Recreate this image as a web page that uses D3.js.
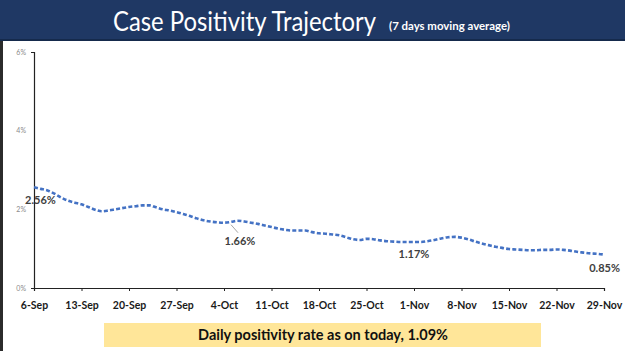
<!DOCTYPE html>
<html>
<head>
<meta charset="utf-8">
<script src="https://cdn.jsdelivr.net/npm/d3@7"></script>
<style>
  body { margin: 0; background: #fff; }
  svg { display: block; }
</style>
</head>
<body>
<div id="viz-area"></div>
<script>
// 7 day moving average of case positivity, 6-Sep .. 29-Nov (one value a day, %)
const START = "2020-09-06";
const positivity = [
  2.56, 2.52, 2.48, 2.40, 2.30, 2.22, 2.17, 2.13, 2.06, 1.99,
  1.95, 1.97, 2.00, 2.03, 2.06, 2.08, 2.10, 2.10, 2.05, 2.00,
  1.97, 1.93, 1.88, 1.83, 1.77, 1.72, 1.69, 1.67, 1.66, 1.68,
  1.71, 1.69, 1.66, 1.63, 1.59, 1.55, 1.51, 1.48, 1.46, 1.46,
  1.46, 1.42, 1.39, 1.38, 1.36, 1.34, 1.29, 1.24, 1.22, 1.25,
  1.24, 1.21, 1.19, 1.18, 1.17, 1.17, 1.17, 1.17, 1.19, 1.22,
  1.26, 1.29, 1.30, 1.28, 1.24, 1.18, 1.13, 1.09, 1.05, 1.02,
  0.99, 0.98, 0.97, 0.96, 0.96, 0.97, 0.97, 0.98, 0.97, 0.95,
  0.92, 0.90, 0.88, 0.87, 0.85
];
const tickLabels = ["6-Sep","13-Sep","20-Sep","27-Sep","4-Oct","11-Oct","18-Oct",
                    "25-Oct","1-Nov","8-Nov","15-Nov","22-Nov","29-Nov"];
const yTicks = [0, 2, 4, 6];
// labelled days (index into positivity) and their text
const labelDays  = [0, 28, 56, 84];
const labelTexts = ["2.56%", "1.66%", "1.17%", "0.85%"];

const TITLE = "Case Positivity Trajectory";
const SUBTITLE = "(7 days moving average)";
const FOOTER = "Daily positivity rate as on today, 1.09%";

const W = 625, H = 351;
const PLOT = { LEFT: 34, RIGHT: 604, TOP: 52, BOTTOM: 288 };

const svg = d3.select("#viz-area").append("svg")
  .attr("width", W).attr("height", H);

// header band
svg.append("rect").attr("x", 0).attr("y", 0).attr("width", W).attr("height", 40)
  .attr("fill", "#1f3864");
svg.append("rect").attr("x", 0).attr("y", 39).attr("width", W).attr("height", 2)
  .attr("fill", "#152a4c");
// dark strip on the left edge
svg.append("rect").attr("x", 0).attr("y", 41).attr("width", 3).attr("height", H - 41)
  .attr("fill", "#2b2b2b");

svg.append("text")
  .attr("x", 113).attr("y", 31)
  .attr("fill", "#fff")
  .attr("textLength", 263).attr("lengthAdjust", "spacingAndGlyphs")
  .style("font-family", "Lato, 'Open Sans', sans-serif")
  .style("font-size", "26px")
  .text(TITLE);
svg.append("text")
  .attr("x", 389).attr("y", 30)
  .attr("fill", "#fff")
  .attr("textLength", 121).attr("lengthAdjust", "spacingAndGlyphs")
  .style("font-family", "Lato, 'Open Sans', sans-serif")
  .style("font-size", "11px").style("font-weight", "bold")
  .text(SUBTITLE);

const t0 = d3.timeParse("%Y-%m-%d")(START);
const dates = positivity.map((v, i) => d3.timeDay.offset(t0, i));
const data = positivity.map((v, i) => ({ date: dates[i], value: v }));

const x = d3.scaleTime()
  .domain([dates[0], dates[dates.length - 1]])
  .range([PLOT.LEFT, PLOT.RIGHT]);
const y = d3.scaleLinear().domain([0, 6]).range([PLOT.BOTTOM, PLOT.TOP]);

const tickDates = tickLabels.map((d, i) => d3.timeDay.offset(t0, i * 7));

const xAxis = svg.append("g")
  .attr("transform", `translate(0,${PLOT.BOTTOM})`)
  .call(d3.axisBottom(x).tickValues(tickDates)
    .tickFormat((d, i) => tickLabels[i]).tickSizeInner(3).tickSizeOuter(3));
xAxis.select(".domain").attr("stroke", "#222").attr("stroke-width", 1.2);
xAxis.selectAll(".tick line").attr("stroke", "#222");
xAxis.selectAll("text")
  .attr("y", 14)
  .attr("fill", "#1a1a1a")
  .style("font-family", "Lato, sans-serif")
  .style("font-size", "10.5px").style("font-weight", "bold");

const yAxis = svg.append("g")
  .attr("transform", `translate(${PLOT.LEFT},0)`)
  .call(d3.axisLeft(y).tickValues(yTicks).tickFormat(d => d + "%")
    .tickSizeInner(0).tickSizeOuter(3));
yAxis.select(".domain").attr("stroke", "#222").attr("stroke-width", 1.2);
yAxis.selectAll("text")
  .attr("x", -8)
  .attr("fill", "#8a8a8a")
  .style("font-family", "Lato, sans-serif")
  .style("font-size", "7px");

const line = d3.line()
  .curve(d3.curveMonotoneX)
  .x(d => x(d.date))
  .y(d => y(d.value));

svg.append("path")
  .datum(data)
  .attr("d", line)
  .attr("fill", "none")
  .attr("stroke", "#4472c4")
  .attr("stroke-width", 2.6)
  .attr("stroke-dasharray", "4,2.2");

// data labels, offsets relative to the labelled point
const labelOffset = [[6.5, 17], [16, 22], [0, 16], [0, 17]];
labelDays.forEach((day, i) => {
  const px = x(dates[day]), py = y(positivity[day]);
  if (i === 1) {
    svg.append("line")
      .attr("x1", px + 7).attr("y1", py + 2).attr("x2", px + 14).attr("y2", py + 10)
      .attr("stroke", "#a6a6a6").attr("stroke-width", 1);
  }
  svg.append("text")
    .attr("x", px + labelOffset[i][0]).attr("y", py + labelOffset[i][1])
    .attr("text-anchor", i === 3 ? "end" : "middle")
    .attr("dx", i === 3 ? 16 : 0)
    .attr("fill", "#404040")
    .style("font-family", "Lato, sans-serif")
    .style("font-size", "11px").style("font-weight", "bold")
    .text(labelTexts[i]);
});

// footer box
svg.append("rect").attr("x", 104).attr("y", 323).attr("width", 437).attr("height", 24)
  .attr("fill", "#ffe699");
svg.append("text")
  .attr("x", 323).attr("y", 340)
  .attr("text-anchor", "middle")
  .attr("fill", "#111")
  .style("font-family", "Lato, sans-serif")
  .style("font-size", "14.5px").style("font-weight", "bold")
  .text(FOOTER);
</script>
</body>
</html>
